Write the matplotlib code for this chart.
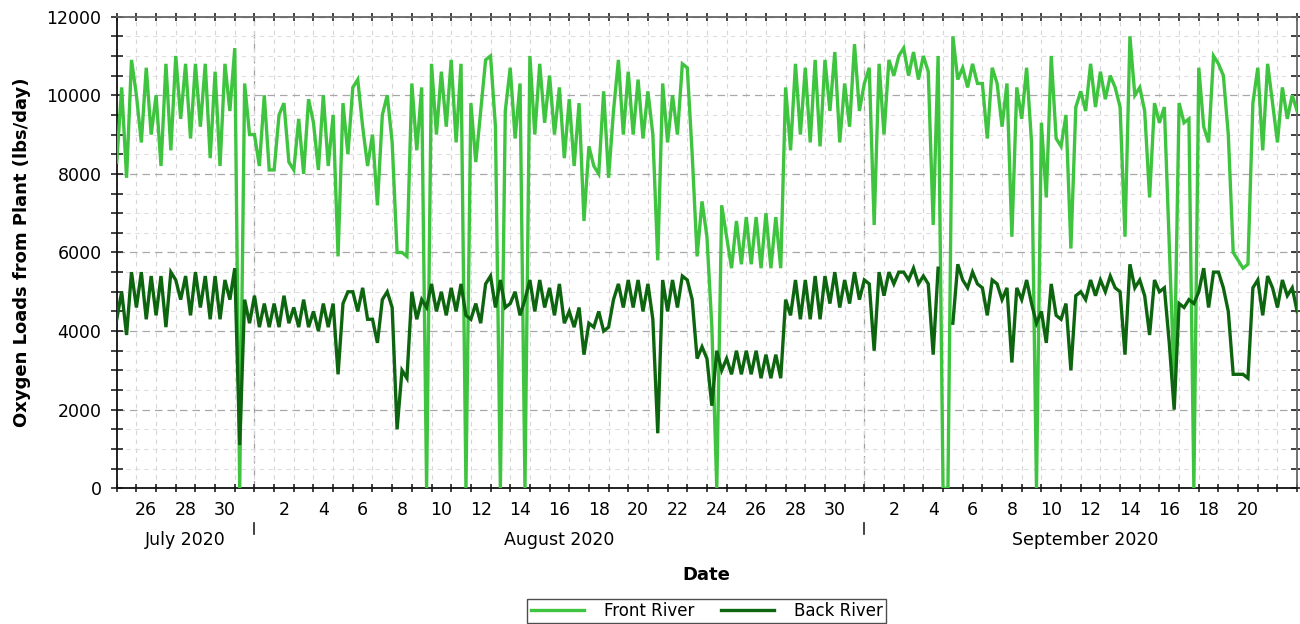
import matplotlib
matplotlib.use('Agg')
import matplotlib.pyplot as plt
import matplotlib.transforms as mtransforms
import numpy as np
import pandas as pd

nan = np.nan

# ---- data: 6-hourly samples (00, 06, 12, 18 h) starting 2020-07-25 00:00 ----
front_jul = [8300, 10200, 7900, 10900,
             10000, 8800, 10700, 9000,
             10000, 8200, 10800, 8600,
             11000, 9400, 10800, 8900,
             10800, 9200, 10800, 8400,
             10600, 8200, 10800, 9600,
             11200, 0, 10300, 9000]
front_aug = [9000, 8200, 10000, 8100,
             8100, 9500, 9800, 8300,
             8100, 9400, 8000, 9900,
             9300, 8100, 10000, 8200,
             9500, 5900, 9800, 8500,
             10200, 10400, 9200, 8200,
             9000, 7200, 9500, 10000,
             8800, 6000, 6000, 5900,
             10300, 8600, 10200, 0,
             10800, 9000, 10600, 9200,
             10900, 8800, 10800, 0,
             9800, 8300, 9600, 10900,
             11000, 9200, 0, 9600,
             10700, 8900, 10300, 0,
             11000, 9000, 10800, 9300,
             10500, 9000, 10200, 8400,
             9900, 8200, 9800, 6800,
             8700, 8200, 8000, 10100,
             7900, 9600, 10900, 9000,
             10600, 9000, 10400, 8900,
             10100, 9000, 5800, 10300,
             8800, 10000, 9000, 10800,
             10700, 8500, 5900, 7300,
             6400, 4100, 0, 7200,
             6400, 5600, 6800, 5700,
             6900, 5700, 6900, 5600,
             7000, 5600, 6900, 5600,
             10200, 8600, 10800, 9000,
             10700, 8800, 10900, 8700,
             10900, 9600, 11100, 8800,
             10300, 9200, 11300, 9600]
front_sep = [10300, 10700, 6700, 10800,
             9000, 10900, 10500, 11000,
             11200, 10500, 11100, 10400,
             11000, 10600, 6700, 11000,
             0, 0, 11500, 10400,
             10700, 10200, 10800, 10300,
             10300, 8900, 10700, 10300,
             9200, 10300, 6400, 10200,
             9400, 10700, 8800, 0,
             9300, 7400, 11000, 8900,
             8700, 9500, 6100, 9700,
             10100, 9600, 10800, 9700,
             10600, 9900, 10500, 10200,
             9700, 6400, 11500, 10000,
             10200, 9600, 7400, 9800,
             9300, 9700, 6200, 2700,
             9800, 9300, 9400, 0,
             10700, 9200, 8800, 11000,
             10800, 10500, 9000, 6000,
             5800, 5600, 5700, 9800,
             10700, 8600, 10800, 9800,
             8800, 10200, 9400, 10000,
             9600]

back_jul = [4300, 5000, 3900, 5500,
            4600, 5500, 4300, 5400,
            4400, 5400, 4100, 5500,
            5300, 4800, 5400, 4400,
            5500, 4600, 5400, 4300,
            5400, 4300, 5300, 4800,
            5600, 1100, 4800, 4200]
back_aug = [4900, 4100, 4700, 4100,
            4700, 4100, 4900, 4200,
            4600, 4100, 4800, 4100,
            4500, 4000, 4700, 4100,
            4700, 2900, 4700, 5000,
            5000, 4500, 5100, 4300,
            4300, 3700, 4800, 5000,
            4600, 1500, 3000, 2800,
            5000, 4300, 4800, 4600,
            5200, 4500, 5000, 4400,
            5100, 4500, 5200, 4400,
            4300, 4700, 4200, 5200,
            5400, 4600, 5300, 4600,
            4700, 5000, 4400, 4800,
            5300, 4500, 5300, 4600,
            5100, 4400, 5200, 4200,
            4500, 4100, 4600, 3400,
            4200, 4100, 4500, 4000,
            4100, 4800, 5200, 4600,
            5300, 4600, 5300, 4500,
            5200, 4300, 1400, 5300,
            4500, 5300, 4600, 5400,
            5300, 4800, 3300, 3600,
            3300, 2100, 3500, 3000,
            3300, 2900, 3500, 2900,
            3500, 2900, 3500, 2800,
            3400, 2800, 3400, 2800,
            4800, 4400, 5300, 4300,
            5300, 4300, 5400, 4300,
            5400, 4700, 5500, 4600,
            5300, 4700, 5500, 4800]
back_sep = [5300, 5200, 3500, 5500,
            4900, 5500, 5200, 5500,
            5500, 5300, 5600, 5200,
            5400, 5200, 3400, 5600,
            nan, nan, 4200, 5700,
            5300, 5100, 5500, 5200,
            5100, 4400, 5300, 5200,
            4800, 5100, 3200, 5100,
            4800, 5300, 4700, 4200,
            4500, 3700, 5200, 4400,
            4300, 4700, 3000, 4900,
            5000, 4800, 5300, 4900,
            5300, 5000, 5400, 5100,
            5000, 3400, 5700, 5100,
            5300, 4900, 3900, 5300,
            5000, 5100, 3700, 2000,
            4700, 4600, 4800, 4700,
            5000, 5600, 4600, 5500,
            5500, 5100, 4500, 2900,
            2900, 2900, 2800, 5100,
            5300, 4400, 5400, 5100,
            4600, 5300, 4900, 5100,
            4500]

label_days = ['2020-07-26', '2020-07-28', '2020-07-30',
              '2020-08-02', '2020-08-04', '2020-08-06', '2020-08-08', '2020-08-10',
              '2020-08-12', '2020-08-14', '2020-08-16', '2020-08-18', '2020-08-20',
              '2020-08-22', '2020-08-24', '2020-08-26', '2020-08-28', '2020-08-30',
              '2020-09-02', '2020-09-04', '2020-09-06', '2020-09-08', '2020-09-10',
              '2020-09-12', '2020-09-14', '2020-09-16', '2020-09-18', '2020-09-20']
month_labels = ['July 2020', 'August 2020', 'September 2020']
month_centers = ['2020-07-28 12:00', '2020-08-16 12:00', '2020-09-12 06:00']
month_starts = ['2020-08-01', '2020-09-01']

front = front_jul + front_aug + front_sep
back = back_jul + back_aug + back_sep
times = pd.date_range('2020-07-25', periods=len(front), freq='6h')

plt.rcParams['font.family'] = ['DejaVu Sans']

fig = plt.figure(figsize=(13, 6.24), dpi=100)
ax = fig.add_axes([0.0898, 0.2175, 0.908, 0.7558])

ax.plot(times, front, color='#3ec43e', lw=2.4, label='Front River', zorder=3,
        solid_joinstyle='miter')
ax.plot(times, back, color='#0d660f', lw=2.4, label='Back River', zorder=4,
        solid_joinstyle='miter')

t0 = pd.Timestamp('2020-07-25')
t1 = pd.Timestamp('2020-09-23')
ax.set_xlim(t0, t1)
ax.set_ylim(0, 12000)

ax.set_yticks(np.arange(0, 12001, 2000))
ax.set_yticks(np.arange(0, 12001, 500), minor=True)
ax.set_yticklabels([str(v) for v in range(0, 12001, 2000)], fontsize=12.5)

days = pd.date_range(t0, t1, freq='D')
ax.set_xticks(days, minor=True)
lab_pos = pd.to_datetime(label_days) + pd.Timedelta(hours=12)
ax.set_xticks(lab_pos)
ax.set_xticklabels([str(d.day) for d in pd.to_datetime(label_days)], fontsize=12.5)

ax.tick_params(axis='x', which='major', length=0, pad=9)
ax.tick_params(axis='x', which='minor', direction='inout', length=6, width=1.2,
               top=True, color='#222222')
ax.tick_params(axis='y', which='both', direction='inout', length=8, width=1.2,
               right=True, pad=7, color='#222222')

# grids
ax.grid(which='major', axis='y', linestyle=(0, (6, 4)), color='#a8a8a8', lw=0.9, zorder=0)
ax.grid(which='minor', axis='y', linestyle=(0, (4, 4)), color='#dedede', lw=0.8, zorder=0)
ax.grid(which='minor', axis='x', linestyle=(0, (4, 4)), color='#d6d6d6', lw=0.8, zorder=0)
ax.grid(which='major', axis='x', visible=False)
for m in month_starts:
    ax.axvline(pd.Timestamp(m), color='#a0a0a0', lw=0.9, linestyle=(0, (6, 4)), zorder=0)

for side in ['left', 'bottom']:
    ax.spines[side].set_color('#111111')
    ax.spines[side].set_linewidth(1.3)
for side in ['top', 'right']:
    ax.spines[side].set_color('#666666')
    ax.spines[side].set_linewidth(1.3)

trans = mtransforms.blended_transform_factory(ax.transData, ax.transAxes)
for lab, c in zip(month_labels, month_centers):
    ax.text(pd.Timestamp(c), -0.11, lab, transform=trans, ha='center', va='center',
            fontsize=12.5)
for m in month_starts:
    ax.plot([pd.Timestamp(m), pd.Timestamp(m)], [-0.073, -0.098], transform=trans,
            color='#222222', lw=1.2, clip_on=False)

fig.text(0.5437, 1 - 575 / 624, 'Date', ha='center', va='center', fontsize=13,
         fontweight='bold')
fig.text(0.0173, 1 - 252 / 624, 'Oxygen Loads from Plant (lbs/day)', ha='center',
         va='center', rotation=90, fontsize=13, fontweight='bold')

leg = fig.legend(loc='center', bbox_to_anchor=(0.5437, 1 - 611 / 624), ncol=2,
                 fontsize=12, frameon=True, fancybox=False, edgecolor='#222222',
                 handlelength=3.2, columnspacing=1.6, handletextpad=1.2,
                 borderpad=0.2, borderaxespad=0)
leg.get_frame().set_linewidth(1.0)

fig.savefig('out.png', dpi=100)
